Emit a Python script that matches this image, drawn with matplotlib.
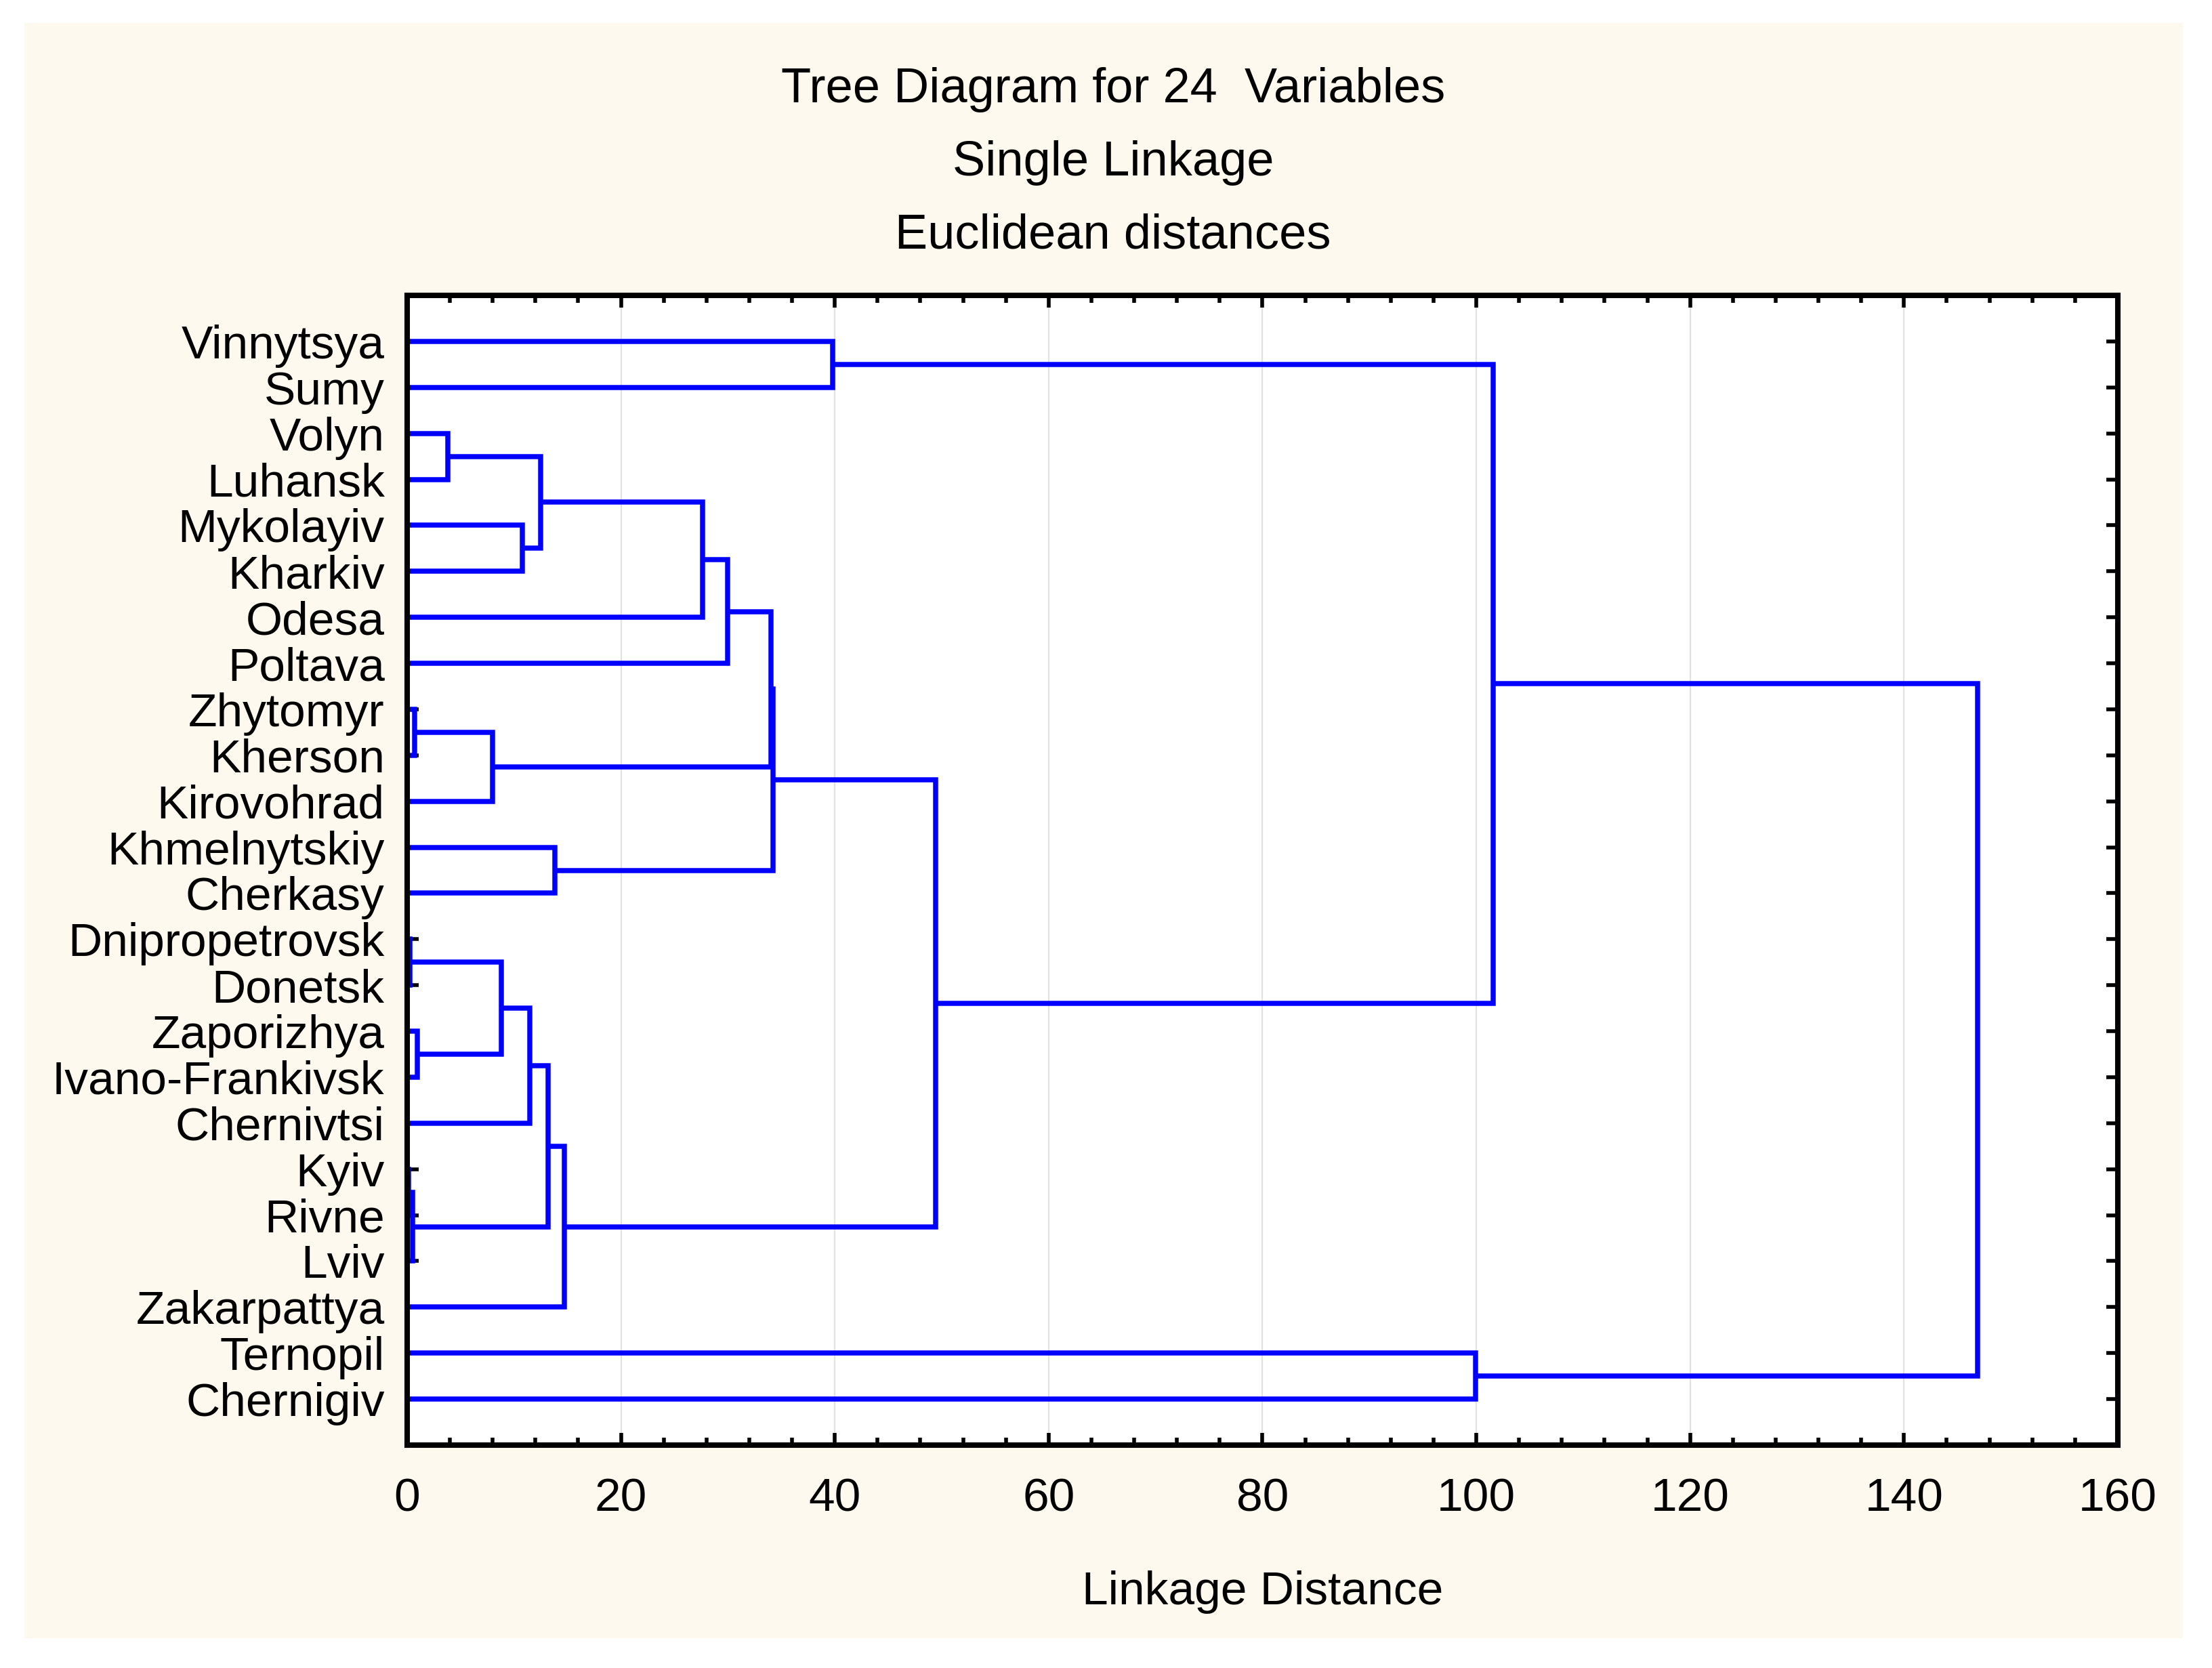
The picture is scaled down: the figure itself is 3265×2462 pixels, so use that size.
import numpy as np
import matplotlib
matplotlib.use("Agg")
import matplotlib.pyplot as plt
from matplotlib.patches import Rectangle
from matplotlib.ticker import MultipleLocator

plt.rcParams['font.family'] = ['Liberation Sans', 'DejaVu Sans']

# leaf order, top to bottom
leaves = ['Vinnytsya', 'Sumy', 'Volyn', 'Luhansk', 'Mykolayiv', 'Kharkiv',
          'Odesa', 'Poltava', 'Zhytomyr', 'Kherson', 'Kirovohrad',
          'Khmelnytskiy', 'Cherkasy', 'Dnipropetrovsk', 'Donetsk',
          'Zaporizhya', 'Ivano-Frankivsk', 'Chernivtsi', 'Kyiv', 'Rivne',
          'Lviv', 'Zakarpattya', 'Ternopil', 'Chernigiv']

# joins in order: left, right, linkage distance (nK = K-th join)
join_left = ['Dnipropetrovsk', 'Kyiv', 'n1', 'Zhytomyr', 'Zaporizhya',
             'Volyn', 'n3', 'n0', 'Mykolayiv', 'n7', 'n5', 'n9',
             'Khmelnytskiy', 'n11', 'n10', 'n14', 'n15', 'n16',
             'Vinnytsya', 'n17', 'Ternopil', 'n18', 'n21']
join_right = ['Donetsk', 'Rivne', 'Lviv', 'Kherson', 'Ivano-Frankivsk',
              'Luhansk', 'Kirovohrad', 'n4', 'Kharkiv', 'Chernivtsi', 'n8',
              'n2', 'Cherkasy', 'Zakarpattya', 'Odesa', 'Poltava', 'n6',
              'n12', 'Sumy', 'n13', 'Chernigiv', 'n19', 'n20']
join_dist = [0.25, 0.1, 0.5, 0.7, 0.95, 3.8, 8.0, 8.8, 10.8, 11.5, 12.5,
             13.2, 13.8, 14.7, 27.6, 30.0, 34.0, 34.2, 39.8, 49.4, 99.9,
             101.6, 146.9]

W, H = 3266, 2462
fig = plt.figure(figsize=(W / 200, H / 200), dpi=200, facecolor='white')
fig.patches.append(Rectangle((36 / W, 44 / H), (3222 - 36) / W, (2418 - 34) / H,
                             transform=fig.transFigure, facecolor='#fef9ee',
                             edgecolor='none', zorder=-10))

ax = fig.add_axes([601 / W, 1 - 2133 / H, (3126 - 601) / W, (2133 - 436) / H])
ax.set_facecolor('white')

# leaf positions then walk the joins
pos = {}
for i, name in enumerate(leaves):
    pos[name] = (0.0, i + 1)
for k in range(len(join_dist)):
    xa, ya = pos[join_left[k]]
    xb, yb = pos[join_right[k]]
    h = join_dist[k]
    ax.plot([xa, h, h, xb], [ya, ya, yb, yb], color='#0000ff', lw=2.7,
            solid_joinstyle='miter', solid_capstyle='butt', zorder=2)
    pos['n%d' % k] = (h, (ya + yb) / 2)

ax.set_xlim(0, 160)
ax.set_ylim(len(leaves) + 1, 0)
ax.set_yticks(np.arange(1, len(leaves) + 1))
ax.set_yticklabels(leaves)
ax.xaxis.set_major_locator(MultipleLocator(20))
ax.xaxis.set_minor_locator(MultipleLocator(4))
ax.grid(axis='x', which='major', color='#e2e2e2', lw=0.8)
ax.set_axisbelow(True)

ax.tick_params(axis='both', which='both', direction='in', top=True, right=True,
               color='black')
ax.tick_params(axis='y', which='major', length=6, width=2.0, pad=12, labelsize=25)
ax.tick_params(axis='x', which='major', length=6.5, width=2.0, pad=17, labelsize=25)
ax.tick_params(axis='x', which='minor', length=4, width=2.0)
for s in ax.spines.values():
    s.set_linewidth(2.9)

fig.text(0.503, 1 - 132 / H, 'Tree Diagram for 24  Variables', ha='center',
         va='center', fontsize=26)
fig.text(0.503, 1 - 240 / H, 'Single Linkage', ha='center', va='center', fontsize=26)
fig.text(0.503, 1 - 348 / H, 'Euclidean distances', ha='center', va='center',
         fontsize=26)
fig.text((601 + 3126) / 2 / W, 1 - 2350 / H, 'Linkage Distance', ha='center',
         va='center', fontsize=25)

fig.savefig('out.png', dpi=200, facecolor='white')
